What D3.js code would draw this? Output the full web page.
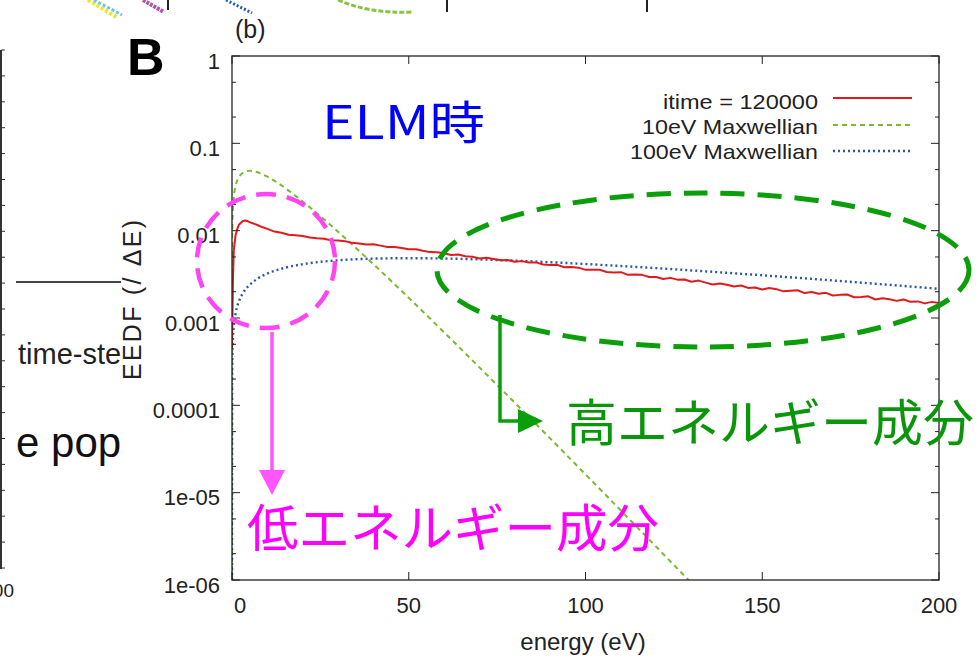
<!DOCTYPE html>
<html>
<head>
<meta charset="utf-8">
<script src="https://cdn.jsdelivr.net/npm/d3@7"></script>
<style>
  body { margin: 0; background: #fff; }
  svg { display: block; }
</style>
</head>
<body>
<svg id="chart" width="978" height="659"></svg>
<script>
// ---- data -------------------------------------------------------------
// simulated EEDF at itime = 120000 (low-energy rise, then dense 2 eV bins)
const redLowEnergy = [0, 0.25, 0.5, 1, 1.5, 2, 3, 3.7, 4.5, 5.5, 7, 8.5];
const redLowEEDF   = [0.00045, 0.0025, 0.006, 0.0088, 0.0105, 0.0118, 0.0128, 0.0131, 0.0128, 0.0123, 0.0117, 0.0110];
const redBinEnergy = d3.range(10, 201, 2);
const redBinEEDF = [
  0.01048, 0.00976, 0.00945, 0.00899, 0.00885, 0.00868, 0.00833, 0.00817, 0.00807, 0.00776,
  0.00772, 0.00755, 0.00725, 0.00714, 0.00696, 0.00699, 0.00674, 0.00651, 0.00649, 0.00633,
  0.00612, 0.00614, 0.00588, 0.00568, 0.00567, 0.00552, 0.00527, 0.00534, 0.00510, 0.00502,
  0.00480, 0.00491, 0.00475, 0.00459, 0.00461, 0.00440, 0.00448, 0.00431, 0.00433, 0.00409,
  0.00405, 0.00406, 0.00381, 0.00384, 0.00377, 0.00356, 0.00358, 0.00357, 0.00337, 0.00332,
  0.00335, 0.00312, 0.00315, 0.00312, 0.00295, 0.00295, 0.00280, 0.00288, 0.00275, 0.00276,
  0.00260, 0.00268, 0.00254, 0.00242, 0.00248, 0.00240, 0.00229, 0.00236, 0.00221, 0.00223,
  0.00212, 0.00220, 0.00214, 0.00202, 0.00205, 0.00208, 0.00193, 0.00198, 0.00190, 0.00194,
  0.00181, 0.00184, 0.00186, 0.00173, 0.00174, 0.00177, 0.00163, 0.00168, 0.00164, 0.00157,
  0.00163, 0.00153, 0.00155, 0.00147, 0.00153, 0.00148
];

// 10 eV Maxwellian
const max10Energy = [0, 0.05, 0.2, 0.5, 1, 2, 3, 4, 5, 6, 7, 8, 10, 12, 15, 20, 25, 30, 40, 50, 60, 70, 80, 90, 100, 110, 120, 130];
const max10EEDF   = [1e-6, 0.00794, 0.01564, 0.0240, 0.03229, 0.04131, 0.04579, 0.04784, 0.04839, 0.04797, 0.04688, 0.04535,
                     0.04151, 0.03723, 0.03084, 0.02160, 0.01464, 0.00973, 0.004134, 0.00170, 0.000685, 0.000272,
                     0.0001071, 0.0000418, 0.0000162, 0.00000625, 0.0000024, 0.00000092];

// 100 eV Maxwellian
const max100Energy = [0, 0.05, 0.2, 0.5, 1, 2, 3, 5, 7, 10, 15, 20, 30, 40, 50, 60, 70, 80, 90, 100, 120, 140, 160, 180, 200];
const max100EEDF   = [1e-6, 0.000252, 0.000505, 0.000794, 0.001117, 0.001564, 0.001897, 0.00240, 0.002784, 0.003229,
                      0.003762, 0.004131, 0.004579, 0.004784, 0.004839, 0.004797, 0.004688, 0.004535, 0.004353,
                      0.004151, 0.003723, 0.003292, 0.002882, 0.002503, 0.002160];

const legendLabels = ["itime = 120000", "10eV Maxwellian", "100eV Maxwellian"];
const xTickValues  = [0, 50, 100, 150, 200];
const yTickValues  = [1, 0.1, 0.01, 0.001, 0.0001, 1e-5, 1e-6];
const yTickLabels  = ["1", "0.1", "0.01", "0.001", "0.0001", "1e-05", "1e-06"];

// ---- layout -----------------------------------------------------------
const svg = d3.select("#chart");
const plot = { left: 232, right: 939, top: 56, bottom: 580 };
const sansFont = "'Liberation Sans', Arial, sans-serif";
const cjkFont = "'Noto Sans CJK JP', 'Noto Sans CJK SC', sans-serif";

const x = d3.scaleLinear().domain([0, 200]).range([plot.left, plot.right]);
const y = d3.scaleLog().domain([1e-6, 1]).range([plot.bottom, plot.top]);

// ---- fragments of the neighbouring panels ----------------------------
const frag = svg.append("g").attr("class", "neighbour");
frag.append("line").attr("x1", 1).attr("x2", 1).attr("y1", 50).attr("y2", 569)
  .attr("stroke", "#333").attr("stroke-width", 2);
const fragScale = d3.scaleLinear().domain([0, 20]).range([568, 50]);
frag.selectAll("line.ft").data(fragScale.ticks(20)).join("line").attr("class", "ft")
  .attr("x1", 1).attr("x2", 5).attr("y1", d => fragScale(d)).attr("y2", d => fragScale(d))
  .attr("stroke", "#333").attr("stroke-width", 1);
frag.append("line").attr("x1", 16).attr("x2", 121).attr("y1", 282).attr("y2", 282)
  .attr("stroke", "#444").attr("stroke-width", 2);
svg.append("clipPath").attr("id", "fragClip").append("rect")
  .attr("x", 0).attr("y", 0).attr("width", 123).attr("height", 659);
frag.append("text").attr("x", 18).attr("y", 364).attr("clip-path", "url(#fragClip)")
  .attr("font-family", sansFont).attr("font-size", 29).attr("fill", "#222").text("time-step");
frag.append("text").attr("x", 16).attr("y", 457)
  .attr("font-family", sansFont).attr("font-size", 42).attr("fill", "#111").text("e pop");
frag.append("text").attr("x", 14).attr("y", 597).attr("text-anchor", "end")
  .attr("font-family", sansFont).attr("font-size", 19).attr("fill", "#222").text("100");
// curve ends poking in from the panels above
frag.append("line").attr("x1", 88).attr("y1", 0).attr("x2", 118).attr("y2", 18)
  .attr("stroke", "#f2e233").attr("stroke-width", 4).attr("stroke-dasharray", "3,2");
frag.append("line").attr("x1", 94).attr("y1", 0).attr("x2", 122).attr("y2", 15)
  .attr("stroke", "#6cc6e0").attr("stroke-width", 3).attr("stroke-dasharray", "3,2");
frag.append("line").attr("x1", 143).attr("y1", 0).attr("x2", 164).attr("y2", 12)
  .attr("stroke", "#a65aa8").attr("stroke-width", 4).attr("stroke-dasharray", "3,1");
frag.append("line").attr("x1", 168).attr("x2", 168).attr("y1", 0).attr("y2", 10)
  .attr("stroke", "#222").attr("stroke-width", 2);
frag.append("line").attr("x1", 226).attr("y1", 0).attr("x2", 252).attr("y2", 13)
  .attr("stroke", "#2456b8").attr("stroke-width", 3).attr("stroke-dasharray", "2,2");
frag.append("path").attr("d", "M338,0 Q370,14 412,12")
  .attr("fill", "none").attr("stroke", "#86c540").attr("stroke-width", 3).attr("stroke-dasharray", "5,2");
[447, 647].forEach(px => frag.append("line").attr("x1", px).attr("x2", px).attr("y1", 0).attr("y2", 12)
  .attr("stroke", "#222").attr("stroke-width", 2));

// ---- panel letters ----------------------------------------------------
svg.append("text").attr("x", 127).attr("y", 75)
  .attr("font-family", sansFont).attr("font-weight", "bold").attr("font-size", 52).attr("fill", "#000").text("B");
svg.append("text").attr("x", 235).attr("y", 38)
  .attr("font-family", sansFont).attr("font-size", 25).attr("fill", "#222").text("(b)");

// ---- axes frame and ticks --------------------------------------------
const axisColor = "#222";
const g = svg.append("g");

// minor log ticks at 2 and 5 per decade
const yMinor = [];
d3.range(-6, 0).forEach(k => { yMinor.push(2 * Math.pow(10, k), 5 * Math.pow(10, k)); });

function yTicks(cls, vals, len) {
  g.selectAll("line." + cls + "L").data(vals).join("line").attr("class", cls + "L")
    .attr("x1", plot.left).attr("x2", plot.left + len)
    .attr("y1", d => y(d)).attr("y2", d => y(d)).attr("stroke", axisColor).attr("stroke-width", 1);
  g.selectAll("line." + cls + "R").data(vals).join("line").attr("class", cls + "R")
    .attr("x1", plot.right).attr("x2", plot.right - len)
    .attr("y1", d => y(d)).attr("y2", d => y(d)).attr("stroke", axisColor).attr("stroke-width", 1);
}
yTicks("ymaj", yTickValues, 8);
yTicks("ymin", yMinor, 4);

g.selectAll("line.xb").data(xTickValues).join("line").attr("class", "xb")
  .attr("x1", d => x(d)).attr("x2", d => x(d)).attr("y1", plot.bottom).attr("y2", plot.bottom - 8)
  .attr("stroke", axisColor).attr("stroke-width", 1);
g.selectAll("line.xt").data(xTickValues).join("line").attr("class", "xt")
  .attr("x1", d => x(d)).attr("x2", d => x(d)).attr("y1", plot.top).attr("y2", plot.top + 8)
  .attr("stroke", axisColor).attr("stroke-width", 1);

g.selectAll("text.yl").data(yTickValues).join("text").attr("class", "yl")
  .attr("x", plot.left - 12).attr("y", d => y(d) + 5).attr("dy", "0.35em")
  .attr("text-anchor", "end").attr("font-family", sansFont).attr("font-size", 22).attr("fill", "#222")
  .text((d, i) => yTickLabels[i]);

g.selectAll("text.xl").data(xTickValues).join("text").attr("class", "xl")
  .attr("x", d => x(d) + (d === 0 ? 8 : 0)).attr("y", 613)
  .attr("text-anchor", "middle").attr("font-family", sansFont).attr("font-size", 22).attr("fill", "#222")
  .text(d => d);

svg.append("text").attr("x", 583).attr("y", 650).attr("text-anchor", "middle")
  .attr("font-family", sansFont).attr("font-size", 24).attr("fill", "#222").text("energy (eV)");
svg.append("text").attr("transform", "translate(141,300) rotate(-90)").attr("text-anchor", "middle")
  .attr("font-family", sansFont).attr("font-size", 25).attr("fill", "#222")
  .attr("textLength", 160).attr("lengthAdjust", "spacing").text("EEDF (/ ΔE)");

// ---- curves -----------------------------------------------------------
svg.append("clipPath").attr("id", "plotClip").append("rect")
  .attr("x", plot.left).attr("y", plot.top).attr("width", plot.right - plot.left).attr("height", plot.bottom - plot.top);
const curves = svg.append("g").attr("clip-path", "url(#plotClip)");
const line = d3.line().x(d => x(d[0])).y(d => y(d[1]));

const redData = d3.zip(redLowEnergy.concat(redBinEnergy), redLowEEDF.concat(redBinEEDF));
const greenData = d3.zip(max10Energy, max10EEDF);
const blueData = d3.zip(max100Energy, max100EEDF);

const styles = [
  { color: "#e31a1c", width: 2, dash: null },
  { color: "#77bb2f", width: 2, dash: "5,4" },
  { color: "#2a56a8", width: 2.4, dash: "2,3" }
];

curves.append("path").datum(greenData).attr("d", line.curve(d3.curveMonotoneX))
  .attr("fill", "none").attr("stroke", styles[1].color).attr("stroke-width", styles[1].width).attr("stroke-dasharray", styles[1].dash);
curves.append("path").datum(blueData).attr("d", line.curve(d3.curveMonotoneX))
  .attr("fill", "none").attr("stroke", styles[2].color).attr("stroke-width", styles[2].width).attr("stroke-dasharray", styles[2].dash);
curves.append("path").datum(redData).attr("d", line.curve(d3.curveLinear))
  .attr("fill", "none").attr("stroke", styles[0].color).attr("stroke-width", styles[0].width)
  .attr("stroke-linejoin", "round");

// frame on top of curves
g.raise();
svg.append("rect").attr("x", plot.left).attr("y", plot.top)
  .attr("width", plot.right - plot.left).attr("height", plot.bottom - plot.top)
  .attr("fill", "none").attr("stroke", axisColor).attr("stroke-width", 1.3);

// ---- legend -----------------------------------------------------------
const legendLineY = [98, 125, 151];
const legendTextY = [102, 127, 152];
const legendWidths = [155, 176, 188];
const lg = svg.append("g");
legendLabels.forEach((lab, i) => {
  lg.append("text").attr("x", 818).attr("y", legendTextY[i]).attr("dy", "0.35em")
    .attr("text-anchor", "end").attr("font-family", sansFont).attr("font-size", 21).attr("fill", "#222")
    .attr("textLength", legendWidths[i]).attr("lengthAdjust", "spacingAndGlyphs").text(lab);
  lg.append("line").attr("x1", 833).attr("x2", 912).attr("y1", legendLineY[i]).attr("y2", legendLineY[i])
    .attr("stroke", styles[i].color).attr("stroke-width", styles[i].width).attr("stroke-dasharray", styles[i].dash);
});

// ---- annotations ------------------------------------------------------
const ann = svg.append("g");
ann.append("text").attr("x", 322).attr("y", 139)
  .attr("font-family", cjkFont).attr("font-size", 46).attr("fill", "#0000ff")
  .attr("textLength", 163).attr("lengthAdjust", "spacingAndGlyphs").text("ELM時");

// low-energy component
ann.append("ellipse").attr("cx", 266).attr("cy", 261).attr("rx", 69).attr("ry", 67)
  .attr("fill", "none").attr("stroke", "#ff44f4").attr("stroke-width", 4.5).attr("stroke-dasharray", "20,11");
ann.append("line").attr("x1", 272).attr("x2", 272).attr("y1", 332).attr("y2", 472)
  .attr("stroke", "#ff55ff").attr("stroke-width", 3.5);
ann.append("path").attr("d", "M259,470 L285,470 L272,495 Z").attr("fill", "#ff55ff");
ann.append("text").attr("x", 247).attr("y", 547)
  .attr("font-family", cjkFont).attr("font-size", 51).attr("fill", "#ff00ff")
  .attr("textLength", 412).attr("lengthAdjust", "spacingAndGlyphs").text("低エネルギー成分");

// high-energy component
ann.append("ellipse").attr("cx", 703).attr("cy", 270).attr("rx", 266).attr("ry", 77)
  .attr("fill", "none").attr("stroke", "#0a9e0a").attr("stroke-width", 5).attr("stroke-dasharray", "24,13");
ann.append("path").attr("d", "M500,315 L500,421 L521,421")
  .attr("fill", "none").attr("stroke", "#0a9e0a").attr("stroke-width", 3.5);
ann.append("path").attr("d", "M518,409 L543,421 L518,433 Z").attr("fill", "#0a9e0a");
ann.append("text").attr("x", 566).attr("y", 441)
  .attr("font-family", cjkFont).attr("font-size", 50).attr("fill", "#0a960a")
  .attr("textLength", 408).attr("lengthAdjust", "spacingAndGlyphs").text("高エネルギー成分");
</script>
</body>
</html>
